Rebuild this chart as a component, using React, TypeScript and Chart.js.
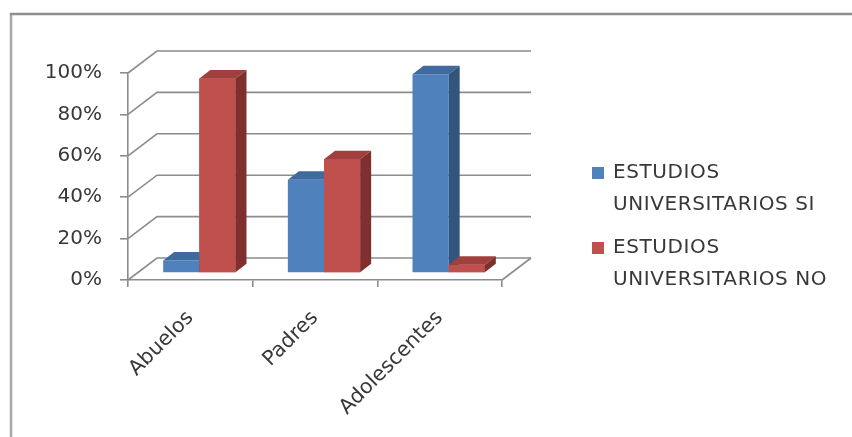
import React, { useEffect, useRef } from "react";
import { Chart, registerables } from "chart.js";

Chart.register(...registerables);

const categories = ["Abuelos", "Padres", "Adolescentes"];
const seriesNames = ["ESTUDIOS UNIVERSITARIOS SI", "ESTUDIOS UNIVERSITARIOS NO"];
const legendLines = [
  ["ESTUDIOS", "UNIVERSITARIOS SI"],
  ["ESTUDIOS", "UNIVERSITARIOS NO"],
];
const siValues = [0.06, 0.45, 0.96];
const noValues = [0.94, 0.55, 0.04];
const yTicks = [0, 0.2, 0.4, 0.6, 0.8, 1];

const FRONT = ["#4F81BD", "#C0504D"];
const TOP = ["#3E6A9E", "#A0403D"];
const SIDE = ["#33547D", "#7F302E"];
const WALL_DX = 29;
const WALL_DY = -22;
const SHIFT_X = 9;
const SHIFT_Y = -7;
const DEPTH_X = 11;
const DEPTH_Y = -8.5;
const FONT = "'DejaVu Sans', sans-serif";
const TEXT = "#383838";
const LINE = "#8c8c8c";

const threeD = {
  id: "threeD",
  beforeDraw(chart: any) {
    const ctx = chart.ctx;
    ctx.save();
    ctx.lineWidth = 2.5;
    ctx.strokeStyle = "#a8a8a8";
    ctx.beginPath();
    ctx.moveTo(11, 13);
    ctx.lineTo(11, 437);
    ctx.stroke();
    ctx.strokeStyle = "#8f8f8f";
    ctx.beginPath();
    ctx.moveTo(10, 14);
    ctx.lineTo(852, 14);
    ctx.stroke();
    ctx.restore();
  },
  beforeDatasetsDraw(chart: any) {
    const { ctx, chartArea: a, scales } = chart;
    const ys = scales.y;
    ctx.save();
    ctx.strokeStyle = LINE;
    ctx.lineWidth = 1.6;
    for (const v of yTicks) {
      const py = ys.getPixelForValue(v);
      ctx.beginPath();
      ctx.moveTo(a.left, py);
      ctx.lineTo(a.left + WALL_DX, py + WALL_DY);
      ctx.lineTo(a.right + WALL_DX, py + WALL_DY);
      ctx.stroke();
    }
    const p0 = ys.getPixelForValue(0);
    ctx.beginPath();
    ctx.moveTo(a.right, p0);
    ctx.lineTo(a.right + WALL_DX, p0 + WALL_DY);
    ctx.stroke();
    ctx.restore();
    ctx.save();
    ctx.translate(SHIFT_X, SHIFT_Y);
  },
  afterDatasetsDraw(chart: any) {
    const ctx = chart.ctx;
    for (let i = 0; i < categories.length; i++) {
      chart.data.datasets.forEach((_ds: any, d: number) => {
        const el = chart.getDatasetMeta(d).data[i];
        const { x, y, base, width } = el.getProps(["x", "y", "base", "width"], true);
        const l = x - width / 2;
        const r = x + width / 2;
        if (d > 0) {
          ctx.fillStyle = FRONT[d];
          ctx.fillRect(l, y, width, base - y);
        }
        ctx.fillStyle = TOP[d];
        ctx.beginPath();
        ctx.moveTo(l, y);
        ctx.lineTo(r, y);
        ctx.lineTo(r + DEPTH_X, y + DEPTH_Y);
        ctx.lineTo(l + DEPTH_X, y + DEPTH_Y);
        ctx.closePath();
        ctx.fill();
        ctx.fillStyle = SIDE[d];
        ctx.beginPath();
        ctx.moveTo(r, y);
        ctx.lineTo(r + DEPTH_X, y + DEPTH_Y);
        ctx.lineTo(r + DEPTH_X, base + DEPTH_Y);
        ctx.lineTo(r, base);
        ctx.closePath();
        ctx.fill();
      });
    }
    ctx.restore();
  },
};

export default function App() {
  const ref = useRef<HTMLCanvasElement | null>(null);

  useEffect(() => {
    if (!ref.current) return;
    const chart = new Chart(ref.current, {
      type: "bar",
      data: {
        labels: categories,
        datasets: [
          { label: seriesNames[0], data: siValues, backgroundColor: FRONT[0], borderWidth: 0 },
          { label: seriesNames[1], data: noValues, backgroundColor: FRONT[1], borderWidth: 0 },
        ],
      },
      options: {
        animation: false,
        responsive: true,
        maintainAspectRatio: false,
        layout: { padding: { left: 0, top: 73, right: 350, bottom: 0 } },
        datasets: { bar: { categoryPercentage: 0.58, barPercentage: 1, clip: false } as any },
        plugins: { legend: { display: false }, tooltip: { enabled: false } },
        scales: {
          x: {
            grid: { display: true, drawOnChartArea: false, offset: true, tickLength: 7, color: LINE, lineWidth: 1.6 },
            border: { display: true, color: LINE, width: 1.6 },
            ticks: {
              minRotation: 45,
              maxRotation: 45,
              padding: 19,
              color: TEXT,
              font: { family: FONT, size: 20.5 },
            },
            afterFit: (s: any) => {
              s.height = 157;
            },
          },
          y: {
            min: 0,
            max: 1,
            grid: { display: true, drawOnChartArea: false, tickLength: 8, color: LINE, lineWidth: 1.6 },
            border: { display: true, color: LINE, width: 1.6 },
            ticks: {
              stepSize: 0.2,
              padding: 18,
              color: TEXT,
              font: { family: FONT, size: 20 },
              callback: (v: any) => Math.round(Number(v) * 100) + "%",
            },
            afterFit: (s: any) => {
              s.width = 128;
            },
          },
        },
      },
      plugins: [threeD],
    });
    return () => chart.destroy();
  }, []);

  const legendTops = [155, 230];
  return (
    <div style={{ position: "fixed", left: 0, top: 0, width: 852, height: 437, background: "#fff", overflow: "hidden" }}>
      <canvas ref={ref} />
      {legendLines.map((lines, k) => (
        <div key={k} style={{ position: "absolute", left: 592, top: legendTops[k] }}>
          <div style={{ position: "absolute", left: 0, top: 12, width: 12, height: 12, background: FRONT[k] }} />
          <div
            style={{
              position: "absolute",
              left: 21,
              top: 0,
              whiteSpace: "nowrap",
              fontFamily: FONT,
              fontSize: 20,
              lineHeight: "32px",
              letterSpacing: "0.6px",
              color: TEXT,
            }}
          >
            {lines.map((t, j) => (
              <div key={j}>{t}</div>
            ))}
          </div>
        </div>
      ))}
    </div>
  );
}
